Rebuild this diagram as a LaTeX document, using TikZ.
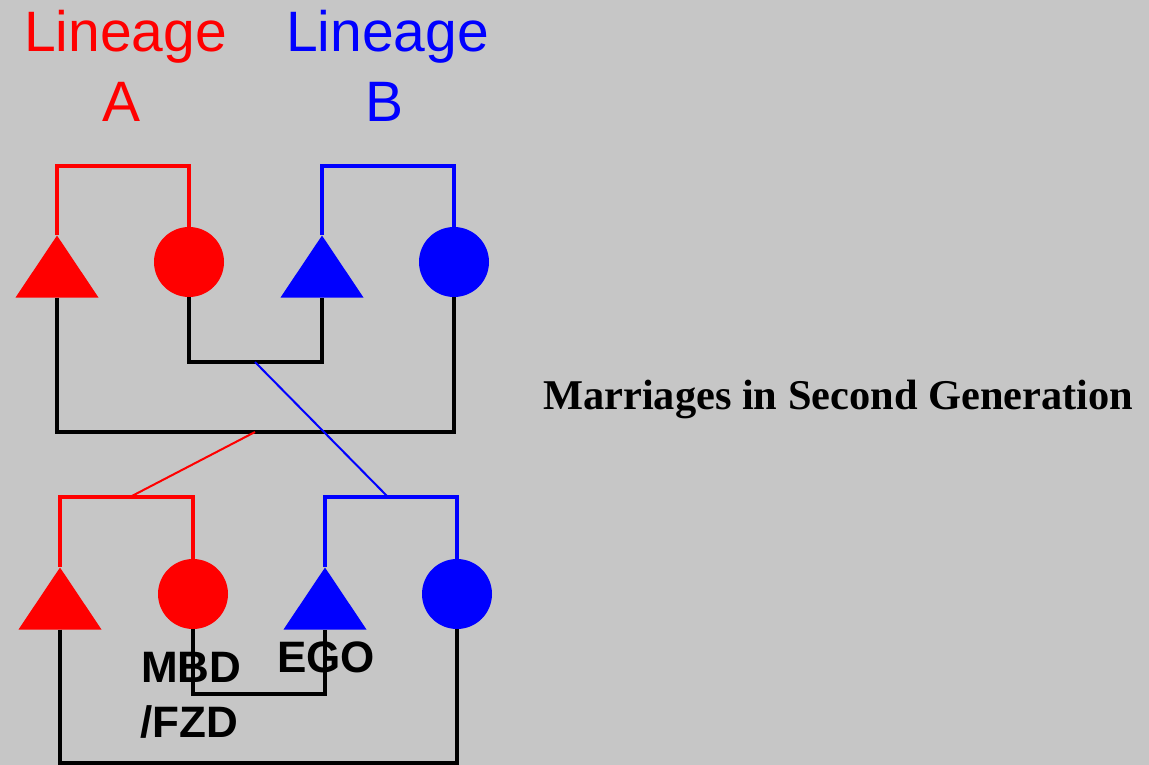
\documentclass[tikz,border=0pt]{standalone}
\usepackage{fontspec}
\setmainfont{Liberation Sans}
\newfontfamily\serifb{Liberation Serif}
\usetikzlibrary{shapes.geometric}
\definecolor{bg}{RGB}{198,198,198}
\definecolor{lr}{RGB}{255,0,0}
\definecolor{lb}{RGB}{0,0,255}
\begin{document}
\begin{tikzpicture}[x=1pt,y=-1pt,
  male/.style={isosceles triangle, isosceles triangle stretches, shape border rotate=90,
    minimum width=83pt, minimum height=62pt, inner sep=0pt, fill=#1, anchor=apex},
  female/.style={circle, minimum size=70pt, inner sep=0pt, fill=#1},
  kin/.style={line width=3.4pt, draw=#1},
  tie/.style={line width=2pt, draw=#1},
  lab/.style={font=\bfseries\fontsize{44}{54}\selectfont, inner sep=0pt, anchor=base west},
  lin/.style={font=\fontsize{57}{64}\selectfont, text=#1, inner sep=0pt, anchor=base}]
\fill[bg] (0,0) rectangle (1149,765);
\useasboundingbox (0,0) rectangle (1149,765);

% headings
\node[lin=lr] (linA) at (125.5,52) {Lineage};
\node[lin=lr] (letA) at (121.5,122) {A};
\node[lin=lb] (linB) at (387.5,52) {Lineage};
\node[lin=lb] (letB) at (385,122) {B};
\node[anchor=base west, inner sep=0pt, font=\serifb\bfseries\fontsize{42.4}{50}\selectfont] (title) at (543,409) {Marriages in Second Generation};

% first generation
\node[male=lr] (am1) at (57,235) {};
\node[female=lr] (af1) at (189,262) {};
\node[male=lb] (bm1) at (322,235) {};
\node[female=lb] (bf1) at (454,262) {};

% second generation
\node[male=lr] (am2) at (60,567) {};
\node[female=lr] (af2) at (193,594) {};
\node[male=lb] (bm2) at (325,567) {};
\node[female=lb] (bf2) at (457,594) {};

% labels
\node[lab] (mbd) at (141,682) {MBD};
\node[lab] (fzd) at (140,737) {/FZD};
\node[lab] (ego) at (277,672) {EGO};

% levels
\coordinate (bar1) at (0,166);
\coordinate (mar1) at (0,362);
\coordinate (mar2) at (0,432);
\coordinate (bar2) at (0,497);
\coordinate (mar3) at (0,694);
\coordinate (mar4) at (0,763);

% sibling brackets
\draw[kin=lr] (am1.apex) |- (af1.north |- bar1) -- (af1.north);
\draw[kin=lb] (bm1.apex) |- (bf1.north |- bar1) -- (bf1.north);
\draw[kin=lr] (am2.apex) |- (af2.north |- bar2) -- (af2.north);
\draw[kin=lb] (bm2.apex) |- (bf2.north |- bar2) -- (bf2.north);

% marriages
\draw[kin=black] (af1.south) |- (bm1.south |- mar1) -- (bm1.south);
\draw[kin=black] (am1.south) |- (bf1.south |- mar2) -- (bf1.south);
\draw[kin=black] (af2.south) |- (bm2.south |- mar3) -- (bm2.south);
\draw[kin=black] (am2.south) |- (bf2.south |- mar4) -- (bf2.south);

% descent ties
\coordinate (d1) at (255,362);
\coordinate (d1e) at (388,497);
\coordinate (d2) at (255,432);
\coordinate (d2e) at (130,497);
\draw[tie=lb] (d1) -- (d1e);
\draw[tie=lr] (d2) -- (d2e);
\end{tikzpicture}
\end{document}
